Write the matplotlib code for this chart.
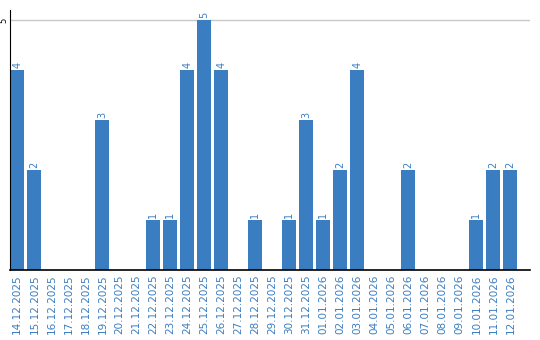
import matplotlib
matplotlib.use("Agg")
import matplotlib.pyplot as plt

dates = ["14.12.2025","15.12.2025","16.12.2025","17.12.2025","18.12.2025","19.12.2025",
         "20.12.2025","21.12.2025","22.12.2025","23.12.2025","24.12.2025","25.12.2025",
         "26.12.2025","27.12.2025","28.12.2025","29.12.2025","30.12.2025","31.12.2025",
         "01.01.2026","02.01.2026","03.01.2026","04.01.2026","05.01.2026","06.01.2026",
         "07.01.2026","08.01.2026","09.01.2026","10.01.2026","11.01.2026","12.01.2026"]
values = [4,2,0,0,0,3,0,0,1,1,4,5,4,0,1,0,1,3,1,2,4,0,0,2,0,0,0,1,2,2]

color = "#3a7dc1"
fig = plt.figure(figsize=(5.4, 3.4), dpi=100)
ax = fig.add_axes([10/540, 70/340, 520/540, 260/340])
x = list(range(len(values)))
ax.bar(x, values, width=0.82, color=color, zorder=2)
for xi, v in zip(x, values):
    if v > 0:
        ax.text(xi, v + 0.04, str(v), rotation=90, ha="center", va="bottom",
                fontsize=7, color=color)
ax.set_xlim(-0.43, 30.15)
ax.set_ylim(0, 5.2)
ax.set_yticks([5])
ax.set_yticklabels(["5"], rotation=90, va="center", fontsize=6)
ax.tick_params(axis="y", length=0, pad=1)
ax.yaxis.grid(True, color="#c8c8c8", linewidth=1, zorder=0)
ax.set_xticks(x)
ax.set_xticklabels(dates, rotation=90, fontsize=7.5, color=color)
ax.tick_params(axis="x", length=0, pad=3)
for s in ["top", "right"]:
    ax.spines[s].set_visible(False)
ax.spines["left"].set_color("black")
ax.spines["bottom"].set_color("black")
ax.spines["bottom"].set_linewidth(1.2)
fig.savefig("out.png", dpi=100)
